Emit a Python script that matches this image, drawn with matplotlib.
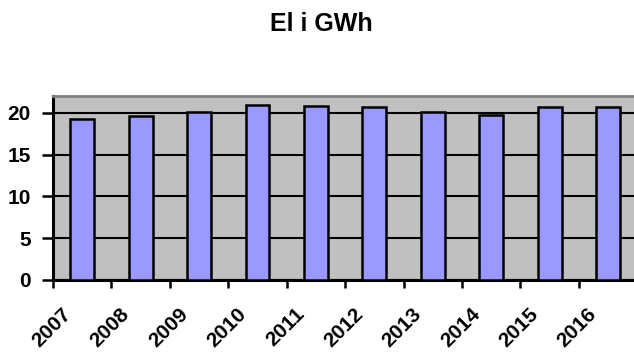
import matplotlib
matplotlib.use("Agg")
import matplotlib.pyplot as plt
import matplotlib.transforms as mtransforms
import numpy as np
from matplotlib.ticker import FixedLocator

plt.rcParams['font.family'] = ['Liberation Sans', 'DejaVu Sans']

years = ["2007", "2008", "2009", "2010", "2011", "2012", "2013", "2014", "2015", "2016"]
el_gwh = [19.3, 19.6, 20.1, 20.9, 20.8, 20.7, 20.1, 19.7, 20.7, 20.7]
y_ticks = [0, 5, 10, 15, 20]

fig = plt.figure(figsize=(6.34, 3.56), dpi=100)
ax = fig.add_axes([0.0836, 0.2135, 0.9216, 0.5169])
ax.set_facecolor("#C0C0C0")

x = np.arange(len(years))
ax.bar(x, el_gwh, width=0.41, color="#9999FF", edgecolor="black", linewidth=1.8, zorder=3)

ax.set_xlim(-0.5, len(years) - 0.5)
ax.set_ylim(0, 22)

ax.set_yticks(y_ticks)
ax.set_yticklabels([str(v) for v in y_ticks], fontsize=15, fontweight="bold")
ax.yaxis.grid(True, color="black", linewidth=1.5, zorder=1)
ax.set_axisbelow(True)

ax.set_xticks(x)
ax.set_xticklabels(years, rotation=45, ha="right", rotation_mode="anchor",
                   fontsize=15, fontweight="bold")
ax.tick_params(axis="x", which="major", length=0, pad=14)
shift = mtransforms.ScaledTranslation(-21 / 100, -5 / 100, fig.dpi_scale_trans)
for lbl in ax.get_xticklabels():
    lbl.set_transform(lbl.get_transform() + shift)
ax.xaxis.set_minor_locator(FixedLocator(np.arange(-0.5, len(years), 1.0)))
ax.tick_params(axis="x", which="minor", length=6, width=1.8, direction="out", color="black")
ax.tick_params(axis="y", length=8, width=1.8, direction="out", color="black", pad=8)

for side in ("left", "bottom"):
    ax.spines[side].set_color("black")
    ax.spines[side].set_linewidth(2.2)
ax.spines["top"].set_color("#808080")
ax.spines["top"].set_linewidth(2.0)
ax.spines["right"].set_visible(False)

fig.text(0.507, 1 - 31 / 356, "El i GWh", ha="center", va="baseline", fontsize=18, fontweight="bold")

fig.savefig("out.png", dpi=100, facecolor="white")
